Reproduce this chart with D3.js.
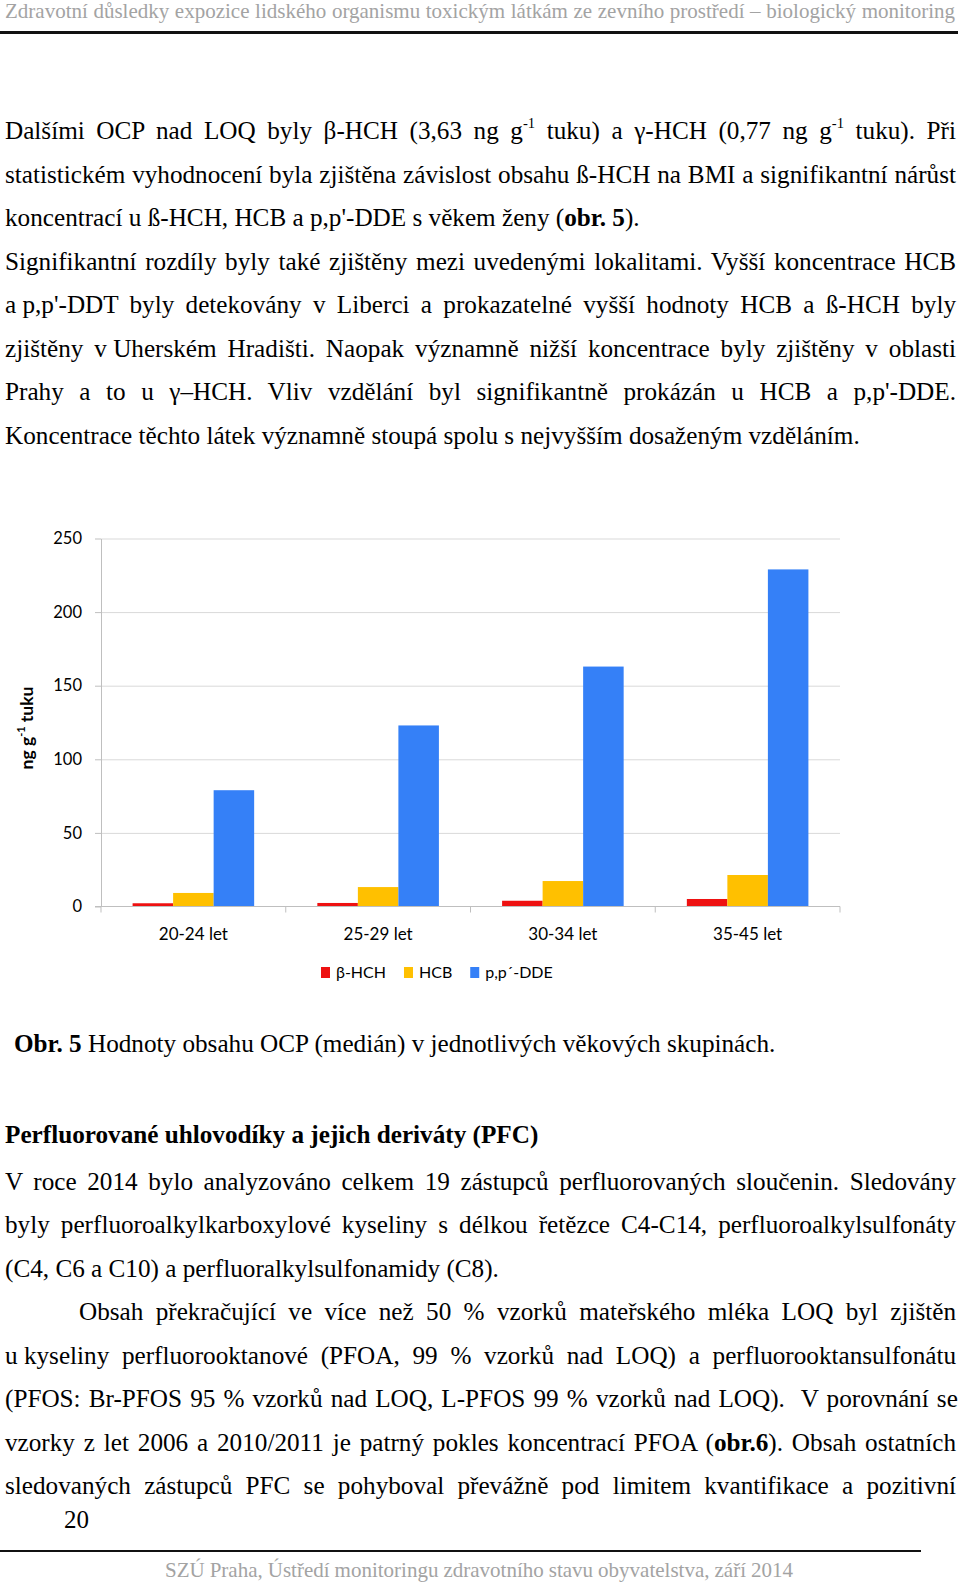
<!DOCTYPE html>
<html>
<head>
<meta charset="utf-8">
<script src="https://cdn.jsdelivr.net/npm/d3@7"></script>
<style>
  body { margin: 0; background: #fff; }
  #page { position: relative; width: 960px; height: 1585px; overflow: hidden;
          font-family: "Liberation Serif", "Times New Roman", serif; color: #000; }
  .ln { position: absolute; white-space: nowrap; line-height: 1; }
  .ln sup { font-size: 58%; line-height: 0; vertical-align: 0; position: relative; top: -0.78em; }
  .nb { word-spacing: 0; }
  .rule { position: absolute; background: #111; }
  #chart { position: absolute; left: 0; top: 0; }
  #chart text { font-family: Lato, "Open Sans", sans-serif; fill: #000; }
</style>
</head>
<body>
<div id="page"></div>
<script>
// chart data
const categories = ['20-24 let', '25-29 let', '30-34 let', '35-45 let']
const seriesNames = ['β-HCH', 'HCB', 'p,p´-DDE']
const seriesColors = ['#ee1111', '#ffc000', '#3580f7']
const betaHCH = [2.2, 2.4, 3.9, 5.1]
const hcb = [9.2, 13.2, 17.3, 21.4]
const ppDDE = [79, 123, 163, 229]
const yTicks = [0, 50, 100, 150, 200, 250]

// page text, one entry per printed line: [html, justified]
const para1 = [
  ['Dalšími OCP nad LOQ byly β-HCH (3,63 ng g<sup>-1</sup> tuku) a γ-HCH (0,77 ng g<sup>-1</sup> tuku). Při', true],
  ['statistickém vyhodnocení byla zjištěna závislost obsahu ß-HCH na BMI a signifikantní nárůst', true],
  ['koncentrací u ß-HCH, HCB a p,p\'-DDE s věkem ženy (<b>obr. 5</b>).', false],
  ['Signifikantní rozdíly byly také zjištěny mezi uvedenými lokalitami. Vyšší koncentrace HCB', true],
  ['<span class="nb">a p,p\'-DDT</span> byly detekovány v Liberci a prokazatelné vyšší hodnoty HCB a ß-HCH byly', true],
  ['zjištěny <span class="nb">v Uherském</span> Hradišti. Naopak významně nižší koncentrace byly zjištěny v oblasti', true],
  ['Prahy a to u γ–HCH. Vliv vzdělání byl signifikantně prokázán u HCB a p,p\'-DDE.', true],
  ['Koncentrace těchto látek významně stoupá spolu s nejvyšším dosaženým vzděláním.', false]
]
const para2 = [
  ['V roce 2014 bylo analyzováno celkem 19 zástupců perfluorovaných sloučenin. Sledovány', true],
  ['byly perfluoroalkylkarboxylové kyseliny s délkou řetězce C4-C14, perfluoroalkylsulfonáty', true],
  ['(C4, C6 a C10) a perfluoralkylsulfonamidy (C8).', false],
  ['Obsah překračující ve více než 50 % vzorků mateřského mléka LOQ byl zjištěn', true, 74],
  ['<span class="nb">u kyseliny</span> perfluorooktanové (PFOA, 99 % vzorků nad LOQ) a perfluorooktansulfonátu', true],
  ['(PFOS: Br-PFOS 95 % vzorků nad LOQ, L-PFOS 99 % vzorků nad LOQ).&nbsp; V porovnání se', true],
  ['vzorky z let 2006 a 2010/2011 je patrný pokles koncentrací PFOA (<b>obr.6</b>). Obsah ostatních', true],
  ['sledovaných zástupců PFC se pohyboval převážně pod limitem kvantifikace a pozitivní', true]
]

const page = d3.select('#page')
const BODY = 25.2
const LEAD = 43.5
const TEXT_LEFT = 5
const TEXT_W = 951

function addLine(html, o) {
  const size = o.size || BODY
  const div = page.append('div')
    .attr('class', 'ln')
    .style('left', o.x + 'px')
    .style('top', (o.base - 0.8375 * size) + 'px')
    .style('font-size', size + 'px')
    .style('color', o.color || '#000')
    .style('font-weight', o.bold ? 'bold' : null)
    .html(html)
  if (o.width) {
    const node = div.node()
    const natural = node.getBoundingClientRect().width
    const all = (node.textContent.match(/ /g) || []).length
    let fixed = 0
    div.selectAll('.nb').each(function () { fixed += (this.textContent.match(/ /g) || []).length })
    const n = all - fixed
    if (n > 0) div.style('word-spacing', ((o.width - natural) / n) + 'px')
  }
  return div
}

// header
addLine('Zdravotní důsledky expozice lidského organismu toxickým látkám ze zevního prostředí – biologický monitoring',
  {x: 5, base: 19, size: 21, color: '#a3a3a3', width: 950})
page.append('div').attr('class', 'rule')
  .style('left', '0px').style('top', '31px').style('width', '958px').style('height', '2.5px')

para1.forEach(([html, just], i) => {
  addLine(html, {x: TEXT_LEFT, base: 139.5 + i * LEAD, width: just ? TEXT_W : null})
})

addLine('<b>Obr. 5</b> Hodnoty obsahu OCP (medián) v jednotlivých věkových skupinách.', {x: 14, base: 1052})
addLine('Perfluorované uhlovodíky a jejich deriváty (PFC)', {x: TEXT_LEFT, base: 1143, bold: true})

para2.forEach(([html, just, indent], i) => {
  const x = TEXT_LEFT + (indent || 0)
  addLine(html, {x, base: 1190 + i * LEAD, width: just ? TEXT_W - (indent || 0) : null})
})

// footer
addLine('20', {x: 64, base: 1528, size: 25})
page.append('div').attr('class', 'rule')
  .style('left', '0px').style('top', '1550px').style('width', '921px').style('height', '2px')
addLine('SZÚ Praha, Ústředí monitoringu zdravotního stavu obyvatelstva, září 2014',
  {x: 165, base: 1578, size: 21, color: '#a3a3a3', width: 628})

// chart
const svg = page.append('svg').attr('id', 'chart').attr('width', 960).attr('height', 1585)
const plot = {left: 101, right: 840, top: 538.5, bottom: 906.5}
const values = [betaHCH, hcb, ppDDE]
const rows = categories.map((c, i) => ({
  cat: c,
  vals: seriesNames.map((s, k) => ({key: s, value: values[k][i], color: seriesColors[k]}))
}))

const x0 = d3.scaleBand().domain(categories).range([plot.left, plot.right])
const inset = x0.bandwidth() * 0.171
const x1 = d3.scaleBand().domain(seriesNames).range([inset, x0.bandwidth() - inset])
const y = d3.scaleLinear().domain([0, 250]).range([plot.bottom, plot.top])

// gridlines
svg.append('g')
  .attr('transform', `translate(${plot.left},0)`)
  .call(d3.axisLeft(y).tickValues(yTicks.slice(1)).tickSize(-(plot.right - plot.left)).tickFormat(''))
  .call(g => g.select('.domain').remove())
  .call(g => g.selectAll('line').attr('stroke', '#d9d9d9'))

// y axis
svg.append('g')
  .attr('transform', `translate(${plot.left},0)`)
  .call(d3.axisLeft(y).tickValues(yTicks).tickSize(6).tickSizeOuter(0).tickPadding(13))
  .call(g => g.select('.domain').attr('stroke', '#bfbfbf'))
  .call(g => g.selectAll('line').attr('stroke', '#bfbfbf'))
  .call(g => g.selectAll('text').style('font-size', '16.5px'))

// bars
svg.append('g').selectAll('g')
  .data(rows)
  .join('g')
  .attr('transform', d => `translate(${x0(d.cat)},0)`)
  .selectAll('rect')
  .data(d => d.vals)
  .join('rect')
  .attr('x', d => x1(d.key))
  .attr('width', x1.bandwidth())
  .attr('y', d => y(d.value))
  .attr('height', d => y(0) - y(d.value))
  .attr('fill', d => d.color)

// x axis with ticks on band boundaries
const xg = svg.append('g')
xg.append('line')
  .attr('x1', plot.left - 6).attr('x2', plot.right)
  .attr('y1', y(0)).attr('y2', y(0))
  .attr('stroke', '#bfbfbf')
xg.selectAll('line.tk')
  .data(categories.map(c => x0(c)).concat([plot.right]))
  .join('line')
  .attr('class', 'tk')
  .attr('x1', d => d).attr('x2', d => d)
  .attr('y1', y(0)).attr('y2', y(0) + 6)
  .attr('stroke', '#bfbfbf')
svg.append('g')
  .attr('transform', `translate(0,${plot.bottom})`)
  .call(d3.axisBottom(x0).tickSize(0).tickPadding(21.5))
  .call(g => g.select('.domain').remove())
  .call(g => g.selectAll('text').style('font-size', '17px'))

// y label
svg.append('text')
  .attr('transform', 'translate(26,728) rotate(-90)')
  .attr('text-anchor', 'middle')
  .attr('dominant-baseline', 'central')
  .style('font-size', '17.5px')
  .style('font-weight', 'bold')
  .call(t => {
    t.append('tspan').text('ng g')
    t.append('tspan').attr('dy', -6).style('font-size', '11px').text('-1')
    t.append('tspan').attr('dy', 6).text(' tuku')
  })

// legend
const legend = svg.append('g').attr('transform', 'translate(321,967)')
let lx = 0
seriesNames.forEach((s, k) => {
  legend.append('rect').attr('x', lx).attr('y', 0).attr('width', 9).attr('height', 11).attr('fill', seriesColors[k])
  const t = legend.append('text').attr('x', lx + 15).attr('y', 11).style('font-size', '16px').text(s)
  lx += 15 + t.node().getComputedTextLength() + 18
})
</script>
</body>
</html>
